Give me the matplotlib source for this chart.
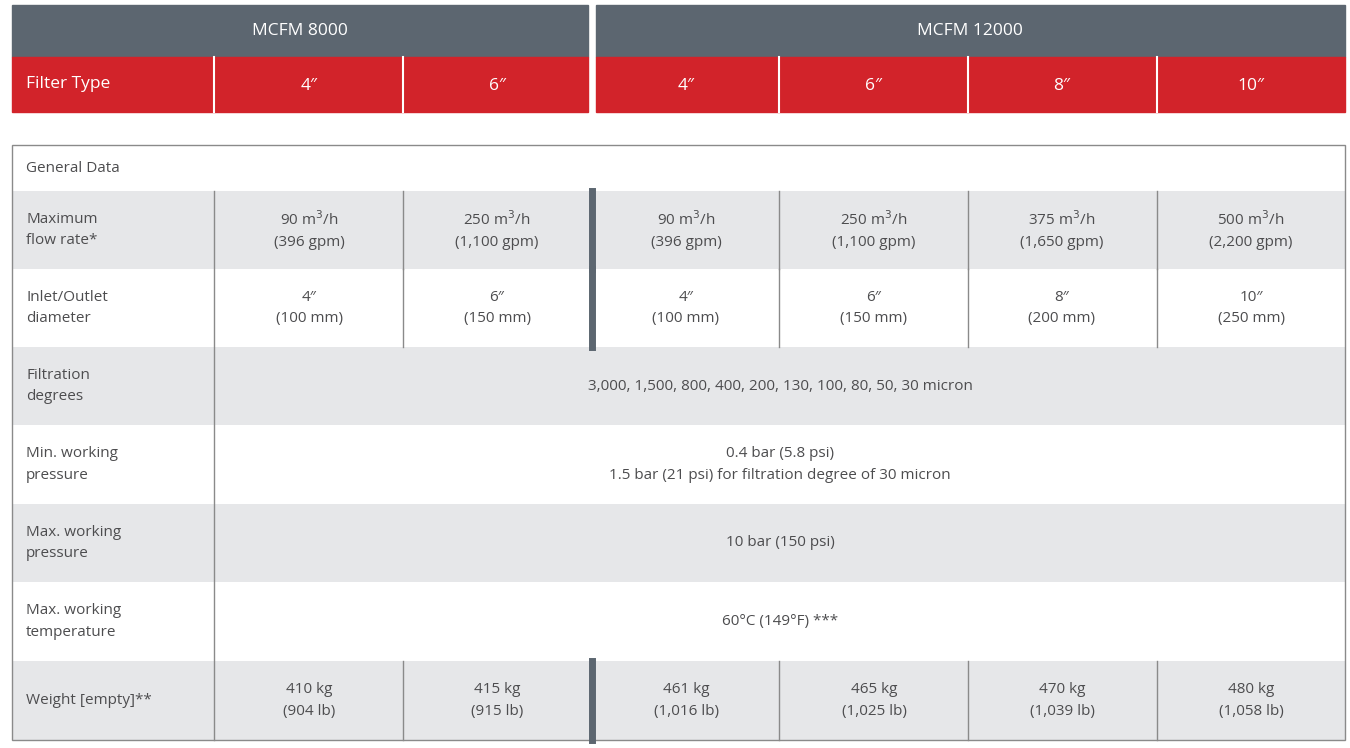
import matplotlib
matplotlib.use("Agg")
import matplotlib.pyplot as plt
from matplotlib.patches import Rectangle

models = ["MCFM 8000", "MCFM 12000"]
sizes = ["4″", "6″", "4″", "6″", "8″", "10″"]
row_labels = ["Maximum\nflow rate*", "Inlet/Outlet\ndiameter", "Filtration\ndegrees",
              "Min. working\npressure", "Max. working\npressure", "Max. working\ntemperature",
              "Weight [empty]**"]
flow = ["90 m$^3$/h\n(396 gpm)", "250 m$^3$/h\n(1,100 gpm)", "90 m$^3$/h\n(396 gpm)",
        "250 m$^3$/h\n(1,100 gpm)", "375 m$^3$/h\n(1,650 gpm)", "500 m$^3$/h\n(2,200 gpm)"]
diam = ["4″\n(100 mm)", "6″\n(150 mm)", "4″\n(100 mm)", "6″\n(150 mm)", "8″\n(200 mm)", "10″\n(250 mm)"]
filtration = "3,000, 1,500, 800, 400, 200, 130, 100, 80, 50, 30 micron"
min_press = "0.4 bar (5.8 psi)\n1.5 bar (21 psi) for filtration degree of 30 micron"
max_press = "10 bar (150 psi)"
max_temp = "60°C (149°F) ***"
weight = ["410 kg\n(904 lb)", "415 kg\n(915 lb)", "461 kg\n(1,016 lb)",
          "465 kg\n(1,025 lb)", "470 kg\n(1,039 lb)", "480 kg\n(1,058 lb)"]

plt.rcParams['font.family'] = ['Open Sans', 'DejaVu Sans']
fig = plt.figure(figsize=(13.5, 7.48), dpi=100)
ax = fig.add_axes([0, 0, 1, 1])
ax.set_xlim(0, 1350); ax.set_ylim(748, 0); ax.axis('off')

GRAY = "#5c6670"; RED = "#d2232a"; LIGHT = "#e6e7e9"; TXT = "#4d4d4f"; LINE = "#8a8a8a"
colx = [214, 403, 592, 779, 968, 1157, 1345]
centers = [309, 497, 686, 874, 1062, 1251]

# header
ax.add_patch(Rectangle((12, 5), 576, 52, color=GRAY))
ax.add_patch(Rectangle((596, 5), 749, 52, color=GRAY))
ax.add_patch(Rectangle((12, 57), 576, 55, color=RED))
ax.add_patch(Rectangle((596, 57), 749, 55, color=RED))
ax.text(300, 31, models[0], color="white", fontsize=12.5, ha="center", va="center")
ax.text(970, 31, models[1], color="white", fontsize=12.5, ha="center", va="center")
ax.text(26, 84, "Filter Type", color="white", fontsize=12.5, ha="left", va="center")
for x in [214, 403, 779, 968, 1157]:
    ax.plot([x, x], [57, 112], color="white", lw=1.5)
for c, s in zip(centers, sizes):
    ax.text(c, 86, s, color="white", fontsize=12.5, ha="center", va="center")

# table rows
rows_y = [145, 191, 269, 347, 425, 504, 582, 661, 740]
for i in range(8):
    if i % 2 == 1:
        ax.add_patch(Rectangle((12, rows_y[i]), 1333, rows_y[i+1]-rows_y[i], color=LIGHT, lw=0))
ax.add_patch(Rectangle((12, 145), 1333, 595, fill=False, ec=LINE, lw=1))
ax.text(26, 168, "General Data", color=TXT, fontsize=11, va="center")
ax.plot([214, 214], [191, 740], color=LINE, lw=1)

def split_rows(i):
    y0, y1 = rows_y[i], rows_y[i+1]
    for x in [403, 779, 968, 1157]:
        ax.plot([x, x], [y0, y1], color=LINE, lw=1)
    ax.plot([592, 592], [y0, y1], color=GRAY, lw=5)

for i in [1, 2, 7]:
    split_rows(i)

for k, lab in enumerate(row_labels):
    y = (rows_y[k+1] + rows_y[k+2]) / 2
    ax.text(26, y, lab, color=TXT, fontsize=11, va="center", ha="left", linespacing=1.6)

for vals, r in [(flow, 1), (diam, 2), (weight, 7)]:
    y = (rows_y[r] + rows_y[r+1]) / 2
    for c, v in zip(centers, vals):
        ax.text(c, y, v, color=TXT, fontsize=11, ha="center", va="center", linespacing=1.6)
for v, r in [(filtration, 3), (min_press, 4), (max_press, 5), (max_temp, 6)]:
    y = (rows_y[r] + rows_y[r+1]) / 2
    ax.text(780, y, v, color=TXT, fontsize=11, ha="center", va="center", linespacing=1.6)

fig.savefig("out.png", dpi=100)
